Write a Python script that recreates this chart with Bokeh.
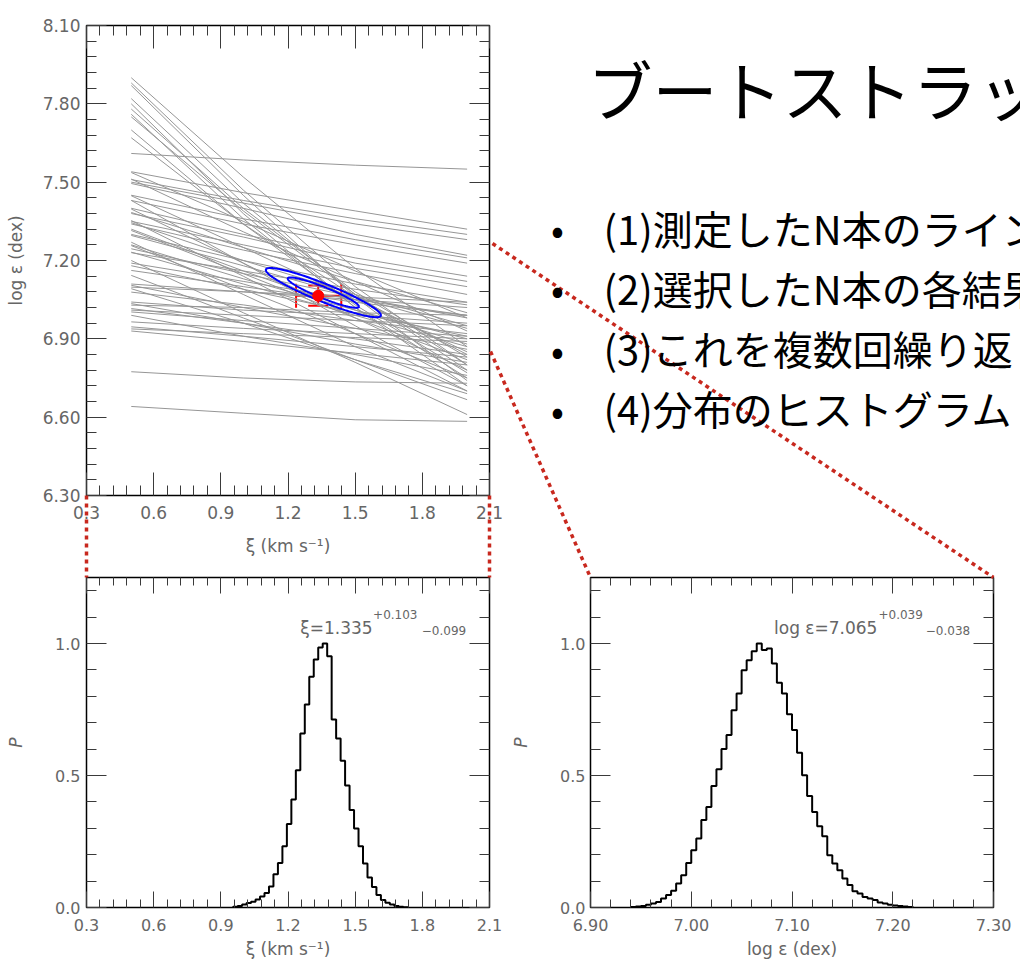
import numpy as np
from bokeh.plotting import figure
from bokeh.models import (Range1d, LinearAxis, FixedTicker, PrintfTickFormatter,
                          Label, Whisker, TeeHead, ColumnDataSource, GridBox)
from bokeh.embed import file_html
from bokeh.resources import INLINE

# ---------------------------------------------------------------- data
XI_SAMPLES = [0.5, 1.0, 1.5, 2.0]
LOGE_AT_XI_050 = [7.90, 7.88, 7.87, 7.82, 7.80, 7.78, 7.76, 7.75, 7.70, 7.67,
                  7.61, 7.54, 7.51, 7.50, 7.495, 7.45, 7.43, 7.40, 7.38, 7.35,
                  7.345, 7.34, 7.32, 7.30, 7.26, 7.23, 7.20, 7.19, 7.27, 7.245,
                  7.11, 7.105, 7.098, 7.079, 7.041, 7.035, 7.029, 7.016, 7.01, 7.003,
                  6.99, 6.965, 6.946, 6.938, 6.93, 6.774, 6.641, 7.537, 7.512, 7.448,
                  7.43, 7.397, 7.384, 7.353, 7.315, 7.296, 7.257, 7.232, 7.18, 7.162,
                  7.143, 7.092]
LOGE_AT_XI_100 = [7.52, 7.47, 7.45, 7.42, 7.38, 7.40, 7.36, 7.39, 7.34, 7.34,
                  7.585, 7.46, 7.43, 7.42, 7.40, 7.36, 7.34, 7.30, 7.29, 7.26,
                  7.20, 7.24, 7.16, 7.20, 7.13, 7.16, 7.00, 7.12, 7.07, 7.15,
                  7.08, 7.02, 7.08, 7.03, 7.01, 6.96, 7.02, 6.96, 6.99, 6.97,
                  6.91, 6.94, 6.91, 6.92, 6.89, 6.75, 6.615, 7.35, 7.31, 7.25,
                  7.19, 7.19, 7.25, 7.14, 7.15, 7.18, 7.09, 7.11, 7.09, 7.10,
                  6.98, 6.96]
LOGE_AT_XI_150 = [7.17, 7.10, 7.06, 7.07, 7.02, 7.08, 7.02, 7.07, 7.03, 7.06,
                  7.565, 7.39, 7.36, 7.34, 7.30, 7.28, 7.26, 7.21, 7.19, 7.17,
                  7.07, 7.15, 7.01, 7.11, 7.01, 7.09, 6.81, 7.05, 6.87, 7.06,
                  7.05, 6.94, 7.06, 6.97, 6.99, 6.88, 7.00, 6.90, 6.97, 6.94,
                  6.84, 6.92, 6.87, 6.905, 6.845, 6.735, 6.59, 7.16, 7.12, 7.05,
                  6.95, 6.98, 7.12, 6.92, 6.98, 7.06, 6.92, 6.99, 7.00, 7.04,
                  6.82, 6.82]
LOGE_AT_XI_200 = [6.87, 6.80, 6.74, 6.78, 6.72, 6.83, 6.75, 6.80, 6.77, 6.84,
                  7.55, 7.32, 7.30, 7.28, 7.22, 7.21, 7.19, 7.14, 7.12, 7.10,
                  6.95, 7.07, 6.88, 7.04, 6.90, 7.03, 6.61, 6.99, 6.70, 6.98,
                  7.02, 6.86, 7.04, 6.92, 6.96, 6.81, 6.99, 6.84, 6.95, 6.91,
                  6.76, 6.90, 6.83, 6.89, 6.80, 6.73, 6.584, 6.98, 6.93, 6.85,
                  6.72, 6.78, 7.00, 6.70, 6.82, 6.94, 6.75, 6.87, 6.91, 6.99,
                  6.667, 6.69]

XI_BEST, XI_ERR_HI, XI_ERR_LO = 1.335, 0.103, 0.099
LOGE_BEST, LOGE_ERR_HI, LOGE_ERR_LO = 7.065, 0.039, 0.038

CONTOUR_CENTER_XI = 1.358
CONTOUR_CENTER_LOGE = 7.077
CONTOUR_SIGMA_XI = 0.105
CONTOUR_SIGMA_LOGE = 0.0385
CONTOUR_RHO = -0.92
CONTOUR_RADII = [1.515, 2.448]          # 68 % and 95 % levels

XI_BIN_START, XI_BIN_WIDTH = 0.955, 0.02
XI_HIST_P = [0.003, 0.006, 0.011, 0.017, 0.022, 0.030, 0.042, 0.055, 0.080, 0.126,
             0.169, 0.232, 0.316, 0.409, 0.520, 0.659, 0.769, 0.874, 0.939, 0.985,
             1.000, 0.952, 0.712, 0.640, 0.556, 0.462, 0.369, 0.299, 0.232, 0.167,
             0.114, 0.078, 0.047, 0.028, 0.018, 0.011, 0.006, 0.003, 0.001]
LOGE_BIN_START, LOGE_BIN_WIDTH = 6.94, 0.005
LOGE_HIST_P = [0.002, 0.004, 0.006, 0.010, 0.015, 0.021, 0.034, 0.047, 0.063, 0.091,
               0.122, 0.169, 0.217, 0.261, 0.331, 0.381, 0.460, 0.524, 0.600, 0.653,
               0.747, 0.811, 0.899, 0.937, 0.971, 1.000, 0.975, 0.981, 0.924, 0.851,
               0.811, 0.732, 0.672, 0.586, 0.501, 0.422, 0.362, 0.308, 0.270, 0.198,
               0.167, 0.141, 0.110, 0.085, 0.062, 0.053, 0.040, 0.034, 0.028, 0.019,
               0.015, 0.010, 0.008, 0.006, 0.004, 0.002]

TOP_X_TICKS = [0.3, 0.6, 0.9, 1.2, 1.5, 1.8, 2.1]
TOP_Y_TICKS = [6.3, 6.6, 6.9, 7.2, 7.5, 7.8, 8.1]
P_TICKS = [0.0, 0.5, 1.0]
LOGE_X_TICKS = [6.9, 7.0, 7.1, 7.2, 7.3]

TITLE_TEXT = "ブートストラッ"
BULLET_TEXTS = ["(1)測定したN本のライン",
                "(2)選択したN本の各結果",
                "(3)これを複数回繰り返",
                "(4)分布のヒストグラム"]

# ---------------------------------------------------------------- style
FONT = "DejaVu Sans"
TEXT_GRAY = "#666666"
TICK_COLOR = "#3a3a3a"
LINE_GRAY = "#969696"
JP_FONT = "Noto Sans CJK JP"
DOT_RED = "#c8281e"


def no_align(fig):
    try:
        fig.frame_align = False
    except Exception:
        pass


def minors(lo, hi, step, majors):
    vals = np.round(np.arange(lo, hi + step / 2, step), 4)
    return [float(v) for v in vals if all(abs(v - m) > 1e-6 for m in majors)]


def tick_style(ax, ticks, minor_ticks, maj, mn):
    ax.ticker = FixedTicker(ticks=ticks, minor_ticks=minor_ticks)
    ax.axis_line_color = None
    ax.major_tick_in = maj
    ax.major_tick_out = 0
    ax.minor_tick_in = mn
    ax.minor_tick_out = 0
    ax.major_tick_line_color = TICK_COLOR
    ax.minor_tick_line_color = TICK_COLOR
    ax.major_tick_line_width = 1
    ax.minor_tick_line_width = 1


def mirror_axis(ticks, minor_ticks, lens):
    ax = LinearAxis(major_label_text_font_size="1px", major_label_text_color=None,
                    major_label_standoff=0)
    tick_style(ax, ticks, minor_ticks, *lens)
    return ax


def dress(p, xt, xm, yt, ym, xfmt, yfmt, xlen, ylen, fs, xlabel, ylabel,
          x_std, x_lstd, y_std, y_lstd, ylabel_style="normal"):
    p.xgrid.visible = False
    p.ygrid.visible = False
    p.outline_line_color = "black"
    p.outline_line_width = 1.5
    xa, ya = p.xaxis[0], p.yaxis[0]
    tick_style(xa, xt, xm, *xlen)
    tick_style(ya, yt, ym, *ylen)
    for ax, fmt, std in ((xa, xfmt, x_std), (ya, yfmt, y_std)):
        ax.formatter = PrintfTickFormatter(format=fmt)
        ax.major_label_text_font = FONT
        ax.major_label_text_font_size = fs
        ax.major_label_text_color = TEXT_GRAY
        ax.major_label_standoff = std
        ax.axis_label_text_font = FONT
        ax.axis_label_text_font_size = "17px"
        ax.axis_label_text_color = TEXT_GRAY
    xa.axis_label = xlabel
    xa.axis_label_standoff = x_lstd
    xa.axis_label_text_font_style = "normal"
    ya.axis_label = ylabel
    ya.axis_label_standoff = y_lstd
    ya.axis_label_text_font_style = ylabel_style
    p.add_layout(mirror_axis(xt, xm, xlen), "above")
    p.add_layout(mirror_axis(yt, ym, ylen), "right")
    no_align(p)


# ---------------------------------------------------------------- top panel
p_top = figure(width=508, height=573, title=None,
               x_range=Range1d(0.3, 2.1), y_range=Range1d(6.3, 8.1),
               min_border_left=86, min_border_right=19,
               min_border_top=25, min_border_bottom=78,
               toolbar_location=None, output_backend="svg")

cols = [LOGE_AT_XI_050, LOGE_AT_XI_100, LOGE_AT_XI_150, LOGE_AT_XI_200]
xs = [list(XI_SAMPLES) for _ in LOGE_AT_XI_050]
ys = [[c[i] for c in cols] for i in range(len(LOGE_AT_XI_050))]
p_top.multi_line(xs, ys, line_color=LINE_GRAY, line_width=1)

t = np.linspace(0, 2 * np.pi, 240)
for k in CONTOUR_RADII:
    cx = CONTOUR_CENTER_XI + k * CONTOUR_SIGMA_XI * np.cos(t)
    cy = CONTOUR_CENTER_LOGE + k * CONTOUR_SIGMA_LOGE * (
        CONTOUR_RHO * np.cos(t) + np.sqrt(1 - CONTOUR_RHO ** 2) * np.sin(t))
    p_top.line(cx, cy, line_color="#0000ff", line_width=2)

hsrc = ColumnDataSource(dict(base=[LOGE_BEST], lower=[XI_BEST - XI_ERR_LO],
                             upper=[XI_BEST + XI_ERR_HI]))
p_top.add_layout(Whisker(source=hsrc, base="base", lower="lower", upper="upper",
                         dimension="width", line_color="red", line_width=2,
                         upper_head=TeeHead(size=24, line_color="red", line_width=2),
                         lower_head=TeeHead(size=24, line_color="red", line_width=2)))
vsrc = ColumnDataSource(dict(base=[XI_BEST], lower=[LOGE_BEST - LOGE_ERR_LO],
                             upper=[LOGE_BEST + LOGE_ERR_HI]))
p_top.add_layout(Whisker(source=vsrc, base="base", lower="lower", upper="upper",
                         dimension="height", line_color="red", line_width=2,
                         upper_head=TeeHead(size=20, line_color="red", line_width=2),
                         lower_head=TeeHead(size=20, line_color="red", line_width=2)))
p_top.scatter([XI_BEST], [LOGE_BEST], size=11, color="red")

dress(p_top, TOP_X_TICKS, minors(0.3, 2.1, 0.06, TOP_X_TICKS),
      TOP_Y_TICKS, minors(6.3, 8.1, 0.06, TOP_Y_TICKS),
      "%.1f", "%.2f", (23, 10), (20, 10), "17px",
      "ξ (km s⁻¹)", "log ε (dex)", 10, 14, 6, 14)


# ---------------------------------------------------------------- histograms
def hist_step(p, start, width, heights):
    edges = start + width * np.arange(len(heights) + 1)
    x = np.concatenate([[edges[0]], edges])
    y = np.concatenate([[0.0], heights, [0.0]])
    p.step(x, y, mode="after", line_color="black", line_width=2)


h1 = figure(width=508, height=393, title=None,
            x_range=Range1d(0.3, 2.1), y_range=Range1d(0, 1.25),
            min_border_left=86, min_border_right=19,
            min_border_top=4, min_border_bottom=59,
            toolbar_location=None, output_backend="svg")
hist_step(h1, XI_BIN_START, XI_BIN_WIDTH, XI_HIST_P)
dress(h1, TOP_X_TICKS, minors(0.3, 2.1, 0.06, TOP_X_TICKS),
      P_TICKS, minors(0.0, 1.2, 0.1, P_TICKS),
      "%.1f", "%.1f", (16, 8), (20, 10), "16px",
      "ξ (km s⁻¹)", "P", 11, 5, 6, 26, "italic")
h1.add_layout(Label(x=1.578, y=1.058, text=f"ξ={XI_BEST:.3f}", text_align="right",
                    text_baseline="alphabetic", text_font=FONT, text_font_size="17px",
                    text_color=TEXT_GRAY))
h1.add_layout(Label(x=1.580, y=1.111, text=f"+{XI_ERR_HI:.3f}", text_align="left",
                    text_baseline="middle", text_font=FONT, text_font_size="12px",
                    text_color=TEXT_GRAY))
h1.add_layout(Label(x=1.7975, y=1.050, text=f"−{XI_ERR_LO:.3f}", text_align="left",
                    text_baseline="middle", text_font=FONT, text_font_size="12px",
                    text_color=TEXT_GRAY))

h2 = figure(width=512, height=393, title=None,
            x_range=Range1d(6.9, 7.3), y_range=Range1d(0, 1.25),
            min_border_left=82, min_border_right=27,
            min_border_top=4, min_border_bottom=59,
            toolbar_location=None, output_backend="svg")
hist_step(h2, LOGE_BIN_START, LOGE_BIN_WIDTH, LOGE_HIST_P)
dress(h2, LOGE_X_TICKS, minors(6.9, 7.3, 0.02, LOGE_X_TICKS),
      P_TICKS, minors(0.0, 1.2, 0.1, P_TICKS),
      "%.2f", "%.1f", (16, 8), (20, 10), "16px",
      "log ε (dex)", "P", 11, 5, 5, 26, "italic")
h2.add_layout(Label(x=7.1848, y=1.058, text=f"log ε={LOGE_BEST:.3f}", text_align="right",
                    text_baseline="alphabetic", text_font=FONT, text_font_size="17px",
                    text_color=TEXT_GRAY))
h2.add_layout(Label(x=7.1858, y=1.111, text=f"+{LOGE_ERR_HI:.3f}", text_align="left",
                    text_baseline="middle", text_font=FONT, text_font_size="12px",
                    text_color=TEXT_GRAY))
h2.add_layout(Label(x=7.2328, y=1.050, text=f"−{LOGE_ERR_LO:.3f}", text_align="left",
                    text_baseline="middle", text_font=FONT, text_font_size="12px",
                    text_color=TEXT_GRAY))

# ---------------------------------------------------------------- overlay (slide text + zoom connectors)
ov = figure(width=1020, height=966, title=None,
            x_range=Range1d(0, 1020), y_range=Range1d(966, 0),
            min_border=0, x_axis_location=None, y_axis_location=None,
            toolbar_location=None, output_backend="svg")
ov.grid.visible = False
ov.outline_line_color = None
ov.background_fill_color = None
ov.border_fill_color = None
no_align(ov)

ov.add_layout(Label(x=587, y=87, text=TITLE_TEXT, text_font=JP_FONT,
                    text_font_size="65px", text_baseline="middle",
                    text_color="black"))
for i, txt in enumerate(BULLET_TEXTS):
    yc = 227 + 60.3 * i
    ov.add_layout(Label(x=557, y=yc, text="•", text_font=JP_FONT, text_font_size="38px",
                        text_align="center", text_baseline="middle", text_color="black"))
    ov.add_layout(Label(x=603, y=yc, text=txt, text_font=JP_FONT, text_font_size="40px",
                        text_align="left", text_baseline="middle", text_color="black"))

ov.segment(x0=[86, 489, 492, 490], y0=[495, 495, 243, 351],
           x1=[86, 489, 993, 590], y1=[577, 577, 577, 577],
           line_color=DOT_RED, line_width=3.5, line_dash="4 4", line_cap="butt")

layout = GridBox(children=[(p_top, 0, 0), (h1, 1, 0), (h2, 1, 1), (ov, 0, 0, 2, 2)],
                 spacing=0)

open("out.html", "w").write(file_html(layout, INLINE))
